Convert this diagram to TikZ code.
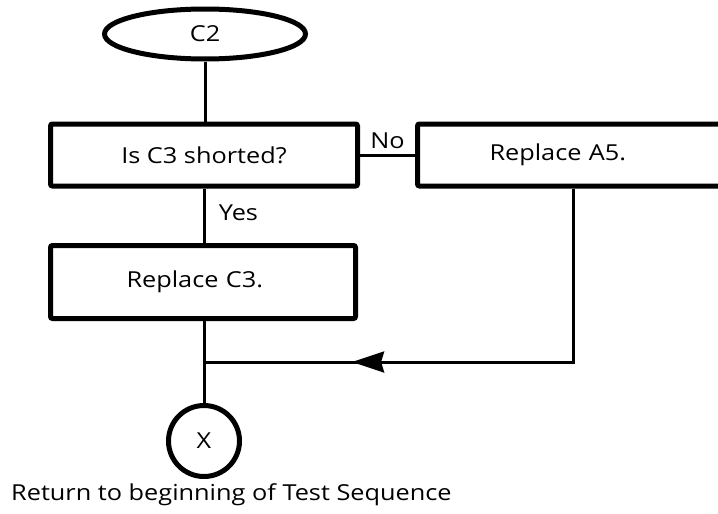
\documentclass[tikz,border=0pt]{standalone}
\usepackage{fontspec}
\setmainfont{Open Sans}[FakeStretch=1.15]
\usetikzlibrary{arrows.meta}
\usetikzlibrary{shapes.geometric}
\usetikzlibrary{decorations.markings}

\tikzset{
 stepbox/.style={draw, rectangle, line width=5pt, rounded corners=2pt, inner sep=0pt},
 wire/.style={line width=3pt},
 lbl/.style={font=\fontsize{22}{26}\selectfont}
}

\begin{document}
\begin{tikzpicture}[x=1pt, y=-1pt, font=\fontsize{22}{26}\selectfont]
\clip (0,0) rectangle (718,514);

 %blocks
 \node[draw, ellipse, line width=5pt, inner sep=0pt, minimum width=201pt, minimum height=50pt] (c2) at (205,34) {C2};
 \node[stepbox, minimum width=307pt, minimum height=62pt] (shorted) at (204,155) {Is C3 shorted?};
 \node[stepbox, minimum width=343pt, minimum height=62pt, text width=343pt, align=left] (repa5) at (589,155) {\hspace*{72pt}Replace A5.};
 \node[stepbox, minimum width=305pt, minimum height=73pt, text width=305pt, align=left] (repc3) at (203,282) {\hspace*{76pt}Replace C3.};
 \node[draw, circle, line width=5pt, inner sep=0pt, minimum size=71pt] (retx) at (204,441) {X};
 \node[anchor=west, inner sep=0pt] (ret) at (11,495) {Return to beginning of Test Sequence};

 %connectors
 \coordinate (turn) at (573,362);
 \coordinate (merge) at (204,362);
 \draw[wire] (c2.south) -- (c2.south |- shorted.north);
 \draw[wire] (shorted.east) -- node[lbl, above=1pt]{No} (repa5.west);
 \draw[wire] (shorted.south) -- node[lbl, right=10pt, pos=0.45]{Yes} (shorted.south |- repc3.north);
 \draw[wire] (repc3.south -| shorted.south) -- (retx.north);
 \draw[wire, postaction={decorate}, decoration={markings, mark=at position 0.727 with {\arrow{Stealth[length=32pt, width=21pt, inset=3pt]}}}]
  (repa5.south -| turn) -- (turn) -- (merge);
\end{tikzpicture}
\end{document}
